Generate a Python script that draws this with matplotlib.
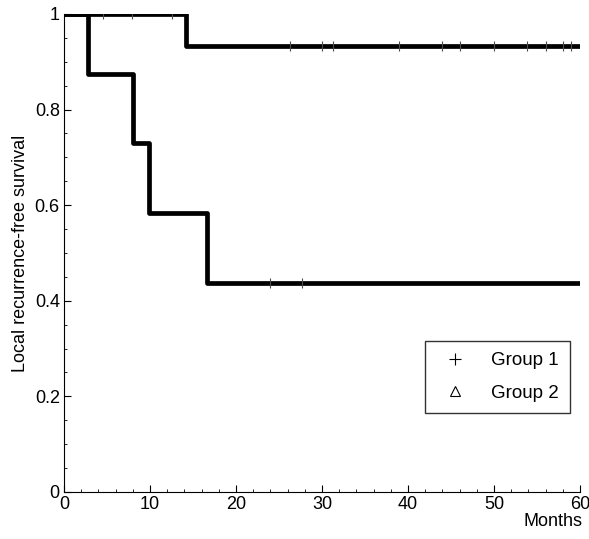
import numpy as np
import matplotlib
matplotlib.use('Agg')
import matplotlib.pyplot as plt
from matplotlib.ticker import MultipleLocator

plt.rcParams['font.family'] = ['Liberation Sans', 'DejaVu Sans']

# Kaplan-Meier step data
g1_times = [0, 14.2, 60]
g1_surv = [1.0, 0.933, 0.933]
g1_cens_t = [4.5, 7.9, 12.5, 26.3, 30, 31.3, 39, 44, 46, 50, 53.8, 56, 58, 59]
g1_cens_s = [1.0, 1.0, 1.0, 0.933, 0.933, 0.933, 0.933, 0.933, 0.933, 0.933, 0.933, 0.933, 0.933, 0.933]

g2_times = [0, 2.8, 8.0, 9.9, 16.6, 60]
g2_surv = [1.0, 0.875, 0.729, 0.583, 0.4375, 0.4375]
g2_cens_t = [24, 27.7]
g2_cens_s = [0.4375, 0.4375]

fig = plt.figure(figsize=(5.89, 5.39), dpi=100)
ax = fig.add_axes([0.1087, 0.0872, 0.876, 0.887])

ax.step(g1_times, g1_surv, where='post', color='black', lw=3.4)
ax.step(g2_times, g2_surv, where='post', color='black', lw=3.4)
# censor marks
ax.plot(g1_cens_t, g1_cens_s, ls='none', marker='|', ms=7, mew=0.8, color='0.3')
ax.plot(g2_cens_t, g2_cens_s, ls='none', marker='|', ms=7, mew=0.8, color='0.3')

ax.set_xlim(0, 60)
ax.set_ylim(0, 1)
ax.xaxis.set_major_locator(MultipleLocator(10))
ax.xaxis.set_minor_locator(MultipleLocator(2))
ax.yaxis.set_minor_locator(MultipleLocator(0.05))
ax.set_yticks([0, 0.2, 0.4, 0.6, 0.8, 1.0])
ax.set_yticklabels(['0', '0.2', '0.4', '0.6', '0.8', '1'])
ax.tick_params(which='both', direction='in', labelsize=13)
ax.tick_params(which='major', length=5, pad=3)
ax.tick_params(which='minor', length=2.5)
ax.spines['top'].set_visible(False)
ax.spines['right'].set_visible(False)

ax.set_ylabel('Local recurrence-free survival', fontsize=13, labelpad=4)
ax.text(1.005, -0.044, 'Months', transform=ax.transAxes, ha='right', va='top', fontsize=13)

# legend
h1, = ax.plot([], [], ls='none', marker='+', ms=8, mew=0.8, color='black')
h2, = ax.plot([], [], ls='none', marker='^', ms=7, mfc='none', mew=0.8, color='black')
leg = ax.legend([h1, h2], ['Group 1', 'Group 2'], loc='lower right',
                bbox_to_anchor=(0.998, 0.146), fontsize=13.5, frameon=True,
                fancybox=False, edgecolor='black', handletextpad=0.9,
                borderpad=0.6, labelspacing=0.8)
leg.get_frame().set_linewidth(1.0)

fig.savefig('out.png', dpi=100)
